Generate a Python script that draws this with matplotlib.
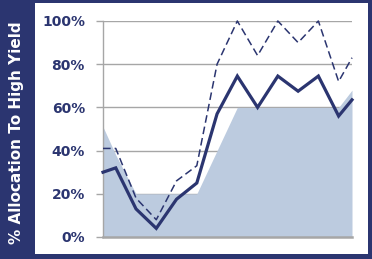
import matplotlib
matplotlib.use("Agg")
import matplotlib.pyplot as plt
from matplotlib.patches import Rectangle

# данные
x_pos = [-0.63, 0, 1, 2, 3, 4, 5, 6, 7, 8, 9, 10, 11, 11.66]
solid_vals = [30, 32, 13, 4, 17.5, 25, 57, 74.5, 60, 74.5, 67.5, 74.5, 56, 63.5]
dashed_vals = [41, 41, 18, 8, 26, 33, 80, 100, 84, 100, 90, 100, 72, 83]
area_vals = [51, 38, 20, 20, 20, 20, 40, 60, 60, 60, 60, 60, 60, 68]
y_ticks = [0, 20, 40, 60, 80, 100]
y_labels = ["0%", "20%", "40%", "60%", "80%", "100%"]

navy = "#2b3570"
fill_c = "#bccbdf"
grid_c = "#a6a6a6"

fig = plt.figure(figsize=(3.72, 2.59), dpi=100)
fig.patch.set_facecolor(navy)

# белая панель на отдельных осях под графиком
bg = fig.add_axes([0, 0, 1, 1], zorder=-1)
bg.set_xlim(0, 372)
bg.set_ylim(259, 0)
bg.axis("off")
bg.add_patch(Rectangle((35, 3), 368 - 35, 254 - 3, facecolor="white", edgecolor="none"))

ax = fig.add_axes([103 / 372, 1 - 237 / 259, (352 - 103) / 372, (237 - 21) / 259])
ax.set_facecolor("none")

ax.fill_between(x_pos, 0, area_vals, color=fill_c, lw=0, zorder=2)
ax.plot(x_pos, dashed_vals, color=navy, lw=1.1, dashes=(5, 2.6), zorder=3, clip_on=False)
ax.plot(x_pos, solid_vals, color=navy, lw=2.3, zorder=4, clip_on=False, solid_joinstyle="miter")

ax.set_xlim(x_pos[0], x_pos[-1])
ax.set_ylim(0, 100)
ax.set_yticks(y_ticks)
ax.set_yticklabels(y_labels, fontsize=10, fontweight="bold", color=navy)
ax.set_xticks([])
ax.tick_params(axis="y", length=5, width=1.0, color=grid_c, pad=8)
ax.yaxis.grid(True, color=grid_c, lw=1.0, zorder=1)
ax.set_axisbelow(True)

for s in ["top", "right"]:
    ax.spines[s].set_visible(False)
ax.spines["left"].set_color(grid_c)
ax.spines["left"].set_linewidth(1.0)
ax.spines["bottom"].set_color(grid_c)
ax.spines["bottom"].set_linewidth(1.8)

fig.text(17 / 372, 1 - 133 / 259, "% Allocation To High Yield", rotation=90,
         ha="center", va="center", color="white", fontsize=11, fontweight="bold")

fig.savefig("out.png", dpi=100, facecolor=navy)
